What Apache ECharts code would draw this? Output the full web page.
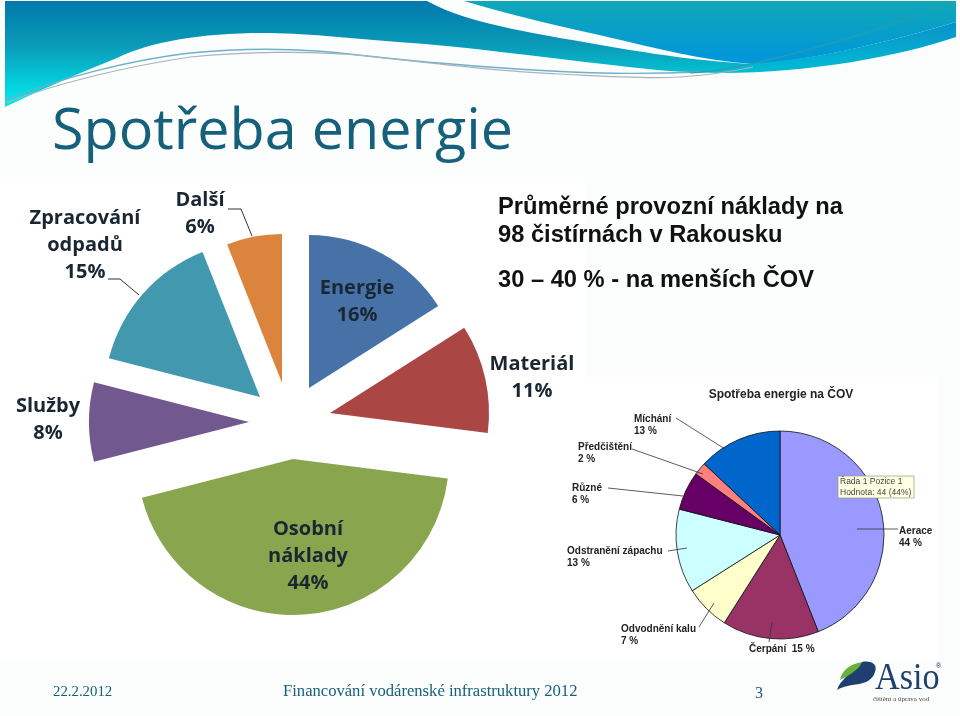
<!DOCTYPE html>
<html>
<head>
<meta charset="utf-8">
<title>Spotřeba energie</title>
<script src="https://cdn.jsdelivr.net/npm/echarts@6/dist/echarts.min.js"></script>
<style>
  html, body { margin:0; padding:0; background:#fcfdfd; }
  #chart { width:960px; height:716px; }
</style>
</head>
<body>
<div id="chart"></div>
<script>
// Provozni naklady (left pie)
const costNames  = ['Energie', 'Materiál', 'Osobní\nnáklady', 'Služby', 'Zpracování\nodpadů', 'Další'];
const costValues = [16, 11, 44, 8, 15, 6];
const costColors = ['#4672a8', '#aa4643', '#89a54e', '#71588f', '#4198af', '#db843d'];

// Spotreba energie na COV (right pie)
const energyNames  = ['Aerace', 'Čerpání', 'Odvodnění kalu', 'Odstranění zápachu', 'Různé', 'Předčištění', 'Míchání'];
const energyValues = [44, 15, 7, 13, 6, 2, 13];
const energyColors = ['#9999ff', '#993366', '#ffffcc', '#ccffff', '#660066', '#ff8080', '#0066cc'];

const titleText = 'Spotřeba energie';
const introLines = ['Průměrné provozní náklady na', '98 čistírnách v Rakousku', '30 – 40 % - na menších ČOV'];
const footerDate = '22.2.2012';
const footerText = 'Financování vodárenské infrastruktury 2012';
const footerPage = '3';

// layout only: exploded slice apexes, radii (the source picture is stretched wide), label centres, leader lines
const costApex   = [[309,388], [330,413], [293,459], [249,422], [260,397], [282,383]];
const costRadius = [153, 159, 156, 160, 156, 149];
const costLabelPos = [[357,302], [532,378], [308,556], [48,420], [85,245], [200,214]];
const costLabelLH = 27;
const costLeaders = { 4:[[108,279],[120,279],[139,295]], 5:[[228,209],[241,209],[252,236]] };

const energyLabelPos = [[899,537], [749,649], [621,635], [567,557], [572,494], [578,453], [634,425]];
const energyLeaders = [
  [[898,529],[857,529]], [[769,642],[772,622]], [[699,627],[714,603]], [[668,551],[687,548]],
  [[608,488],[683,496]], [[632,449],[703,474]], [[676,418],[725,449]]
];

const TEAL = '#15607a';
const chart = echarts.init(document.getElementById('chart'), null, { renderer:'canvas' });

function txt(text, x, y, font, fill, align, lh) {
  return { type:'text', x, y, silent:true, z:30,
    style:{ text, font, fill, textAlign:align || 'left', textVerticalAlign:'middle', lineHeight:lh } };
}
function poly(points, color, width) {
  return { type:'polyline', silent:true, z:25, shape:{ points }, style:{ stroke:color, fill:null, lineWidth:width || 1 } };
}
// graphic component has no plain 'path' type, so register each svg path as a shape
let shapeId = 0;
function pathEl(d, style) {
  const name = 'svgPath' + (shapeId++);
  echarts.graphic.registerShape(name, echarts.graphic.extendPath(d, {}));
  return { type:name, silent:true, style };
}
function curve(d, color, width) { return pathEl(d, { stroke:color, fill:null, lineWidth:width }); }
function area(d, fill) { return pathEl(d, { fill }); }
function vGrad(y0, y1, stops) {
  return new echarts.graphic.LinearGradient(0, y0, 0, y1,
    stops.map(s => ({ offset:s[0], color:s[1] })), true);
}

const graphics = [
  // white picture panels behind the two pies
  { type:'rect', silent:true, shape:{ x:0, y:178, width:585, height:482 }, style:{ fill:'#fff' } },
  { type:'rect', silent:true, shape:{ x:585, y:378, width:353, height:282 }, style:{ fill:'#fff' } },

  // header swoosh
  area('M5,1 L427,1 C470,25 545,35 612,47 C660,55 700,61 753,64 L722,73 C690,73 650,70 612,65 C540,57 470,47 398,42 C350,38 300,33 263,33 C200,33 150,42 117,58 C80,73 40,90 5,107 Z',
       vGrad(0, 100, [[0,'#0078aa'], [0.45,'#0a9ab8'], [1,'#00e6ea']])),
  area('M464,1 L956,1 L956,22 C880,45 800,62 753,64 C700,60 655,48 612,38 C570,28 520,18 464,1 Z',
       vGrad(0, 62, [[0,'#10a8b6'], [1,'#0096dc']])),
  area('M745,64 C800,62 880,45 956,22 L956,37 C900,56 810,73 722,73 Z',
       vGrad(20, 72, [[0,'#0a90c8'], [1,'#00bcd4']])),
  curve('M5,100 C60,78 130,60 190,53 C240,48 300,47 367,56 C420,62 500,68 551,71 C600,74 650,74 700,72', '#6fb0cc', 1.4),
  curve('M5,103 C60,82 130,66 190,57 C240,52 310,50 367,56 C430,63 500,72 560,74 C600,76 640,79 680,77 C710,75 730,72 753,67', '#a8b4bc', 1.2),
  curve('M690,73 C740,70 810,50 882,28 C910,18 935,10 956,2', '#2a9ea8', 1.2),

  txt(titleText, 52, 133, '57.5px "Open Sans"', TEAL),

  txt(introLines[0], 498, 207, 'bold 23.7px "Liberation Sans"', '#111'),
  txt(introLines[1], 498, 235, 'bold 23.7px "Liberation Sans"', '#111'),
  txt(introLines[2], 498, 280, 'bold 23.7px "Liberation Sans"', '#111'),

  // energy chart heading and hover box
  txt('Spotřeba energie na ČOV', 781, 395, 'bold 12px "Liberation Sans"', '#222', 'center'),
  { type:'rect', silent:true, z:20, shape:{ x:838, y:476, width:76, height:22 },
    style:{ fill:'#ffffe1', stroke:'#9a9a80', lineWidth:0.7 } },
  { ...txt('Řada 1 Pozice 1\nHodnota: 44 (44%)', 840, 487, '8.5px "Liberation Sans"', '#444', 'left', 11) },

  // footer
  txt(footerDate, 53, 692, '14.8px "Liberation Serif"', TEAL),
  txt(footerText, 283, 692, '16.6px "Liberation Serif"', TEAL),
  txt(footerPage, 755, 694, '16px "Liberation Serif"', TEAL),

  // logo
  area('M837,690 C840,680 852,672 862,662 C872,660 878,665 875,672 C872,682 862,684 852,685 C846,686 840,688 837,690 Z', '#1e3f70'),
  area('M840,680 C842,670 850,664 862,662 C860,668 852,674 840,680 Z', '#6ab03a'),
  { ...txt('Asio', 875, 679, '38px "Liberation Serif"', '#1e3f70'), scaleX:0.9 },
  txt('®', 936, 666, '7px "Liberation Sans"', '#1e3f70'),
  txt('čištění a úprava vod', 873, 699, '7px "Liberation Serif"', '#444')
];

// left pie labels, leaders
costNames.forEach((n, i) => {
  graphics.push(txt(n + '\n' + costValues[i] + '%', costLabelPos[i][0], costLabelPos[i][1],
    'bold 20px "Open Sans"', '#1b2633', 'center', costLabelLH));
});
Object.keys(costLeaders).forEach(k => graphics.push(poly(costLeaders[k], '#333', 1)));

// right pie labels, leaders
energyNames.forEach((n, i) => {
  const sep = n === 'Čerpání' ? '  ' : '\n';
  graphics.push(txt(n + sep + energyValues[i] + ' %', energyLabelPos[i][0], energyLabelPos[i][1],
    'bold 10px "Liberation Sans"', '#222', 'left', 12.5));
  graphics.push(poly(energyLeaders[i], '#333', 0.8));
});

// one pie per exploded slice, same data so the angles stay true, only one slice painted
const costSeries = costNames.map((_, i) => ({
  type:'pie', name:costNames[i].replace('\n', ' '),
  center:costApex[i], radius:[0, costRadius[i]], startAngle:90, clockwise:true,
  animation:false, silent:true, label:{ show:false }, labelLine:{ show:false },
  data:costValues.map((v, j) => ({
    name:costNames[j], value:v,
    itemStyle:{ color: j === i ? costColors[j] : 'rgba(0,0,0,0)' }
  }))
}));

chart.setOption({
  backgroundColor:'#fcfdfd',
  animation:false,
  graphic:{ elements:graphics },
  series:[
    ...costSeries,
    { type:'pie', name:'Spotřeba energie na ČOV',
      center:[780,535], radius:[0,104], startAngle:90, clockwise:true,
      animation:false, silent:true, label:{ show:false }, labelLine:{ show:false },
      itemStyle:{ borderColor:'#111', borderWidth:0.8 },
      data:energyNames.map((n, i) => ({ name:n, value:energyValues[i], itemStyle:{ color:energyColors[i] } })) }
  ]
});

window.addEventListener('resize', () => chart.resize(), { passive:true });
</script>
</body>
</html>
